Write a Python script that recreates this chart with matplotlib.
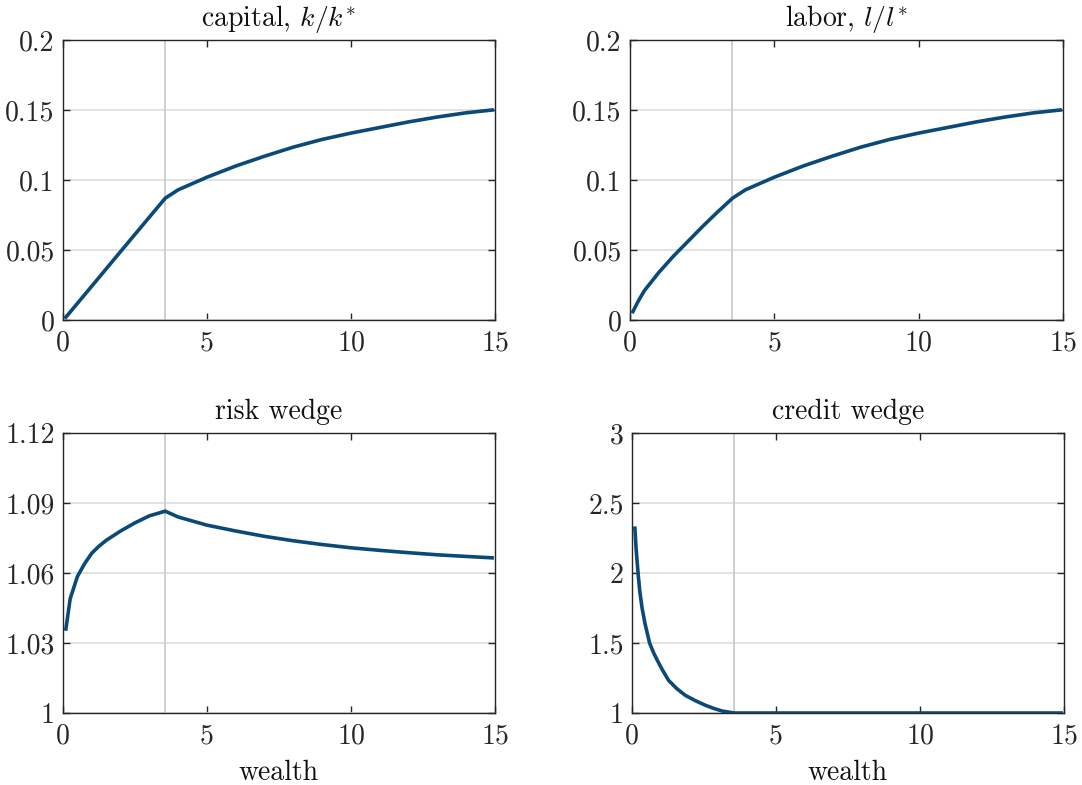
import numpy as np
import matplotlib
matplotlib.use('Agg')
import matplotlib.pyplot as plt

plt.rcParams['font.family'] = 'cmr10'
plt.rcParams['mathtext.fontset'] = 'cm'
plt.rcParams['axes.unicode_minus'] = False

# wealth grid and series
wealth_cap = [0.1, 1.0, 2.0, 3.0, 3.55, 4.0, 5.0, 6.0, 7.0, 8.0, 9.0, 10.0, 11.0, 12.0, 13.0, 14.0, 14.9]
capital = [0.002, 0.0242, 0.0489, 0.0735, 0.087, 0.093, 0.102, 0.110, 0.117, 0.1235, 0.129,
           0.1335, 0.1375, 0.1415, 0.145, 0.148, 0.150]

wealth_lab = [0.1, 0.3, 0.5, 1.0, 1.5, 2.0, 2.5, 3.0, 3.55, 4.0, 5.0, 6.0, 7.0, 8.0, 9.0,
              10.0, 11.0, 12.0, 13.0, 14.0, 14.9]
labor = [0.006, 0.014, 0.021, 0.034, 0.0455, 0.056, 0.0665, 0.0765, 0.087, 0.093, 0.102, 0.110,
         0.117, 0.1235, 0.129, 0.1335, 0.1375, 0.1415, 0.145, 0.148, 0.150]

wealth_risk = [0.1, 0.25, 0.5, 0.75, 1.0, 1.25, 1.5, 2.0, 2.5, 3.0, 3.55, 4.0, 5.0, 6.0, 7.0,
               8.0, 9.0, 10.0, 11.0, 12.0, 13.0, 14.0, 14.9]
risk = [1.036, 1.049, 1.0585, 1.064, 1.0685, 1.0715, 1.074, 1.078, 1.0815, 1.0845, 1.0865,
        1.084, 1.0805, 1.078, 1.0757, 1.0738, 1.0722, 1.0708, 1.0697, 1.0687, 1.0678, 1.0671, 1.0665]

wealth_cred = [0.1, 0.14, 0.21, 0.27, 0.35, 0.45, 0.61, 0.75, 0.88, 1.05, 1.27, 1.55, 1.85,
               2.2, 2.55, 2.85, 3.13, 3.55, 5.0, 10.0, 14.9]
credit = [2.32, 2.18, 2.0, 1.87, 1.75, 1.64, 1.5, 1.43, 1.376, 1.31, 1.233, 1.175, 1.126,
          1.088, 1.055, 1.032, 1.014, 1.0, 1.0, 1.0, 1.0]

threshold = 3.55

panels = [
    ('capital, $k/k^{*}$', wealth_cap, capital, [0, 0.2], [0, 0.05, 0.1, 0.15, 0.2],
     ['0', '0.05', '0.1', '0.15', '0.2']),
    ('labor, $l/l^{*}$', wealth_lab, labor, [0, 0.2], [0, 0.05, 0.1, 0.15, 0.2],
     ['0', '0.05', '0.1', '0.15', '0.2']),
    ('risk wedge', wealth_risk, risk, [1, 1.12], [1, 1.03, 1.06, 1.09, 1.12],
     ['1', '1.03', '1.06', '1.09', '1.12']),
    ('credit wedge', wealth_cred, credit, [1, 3], [1, 1.5, 2, 2.5, 3],
     ['1', '1.5', '2', '2.5', '3']),
]

fig = plt.figure(figsize=(10.82, 7.85), dpi=100)
W, H = 1082, 785
boxes = [(63, 40, 495, 320), (630, 40, 1063, 320), (63, 433, 495, 713), (632, 433, 1064, 713)]

line_col = '#0b4a78'
ax_col = '#262626'
fs = 20

for i, (title, x, y, ylim, yt, ytl) in enumerate(panels):
    l, t, r, b = boxes[i]
    ax = fig.add_axes([l / W, 1 - b / H, (r - l) / W, (b - t) / H])
    ax.axvline(threshold, color='#cccccc', lw=1.3, zorder=1)
    ax.plot(x, y, color=line_col, lw=2.6, zorder=3)
    ax.set_xlim(0, 15)
    ax.set_ylim(ylim)
    ax.set_xticks([0, 5, 10, 15])
    ax.set_xticklabels(['0', '5', '10', '15'])
    ax.set_yticks(yt)
    ax.set_yticklabels(ytl)
    ax.grid(axis='y', color='#dddddd', lw=1.2, zorder=0)
    ax.set_axisbelow(True)
    ax.tick_params(direction='in', top=True, right=True, length=5, width=1,
                   colors=ax_col, labelsize=fs)
    ax.tick_params(axis='x', pad=7)
    ax.tick_params(axis='y', pad=6)
    for s in ax.spines.values():
        s.set_color(ax_col)
        s.set_linewidth(1.0)
    ax.set_title(title, fontsize=fs, color='#111111', pad=10)
    if i >= 2:
        ax.set_xlabel('wealth', fontsize=fs, color='#111111', labelpad=8)

fig.savefig('out.png', dpi=100)
